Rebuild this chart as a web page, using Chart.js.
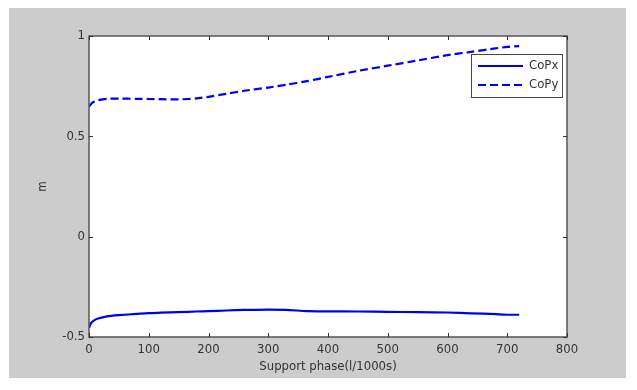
<!DOCTYPE html>
<html><head><meta charset="utf-8">
<script src="https://cdn.jsdelivr.net/npm/chart.js@4/dist/chart.umd.min.js"></script>
<style>html,body{margin:0;padding:0;background:#fff}#wrap{width:637px;height:390px}</style>
</head><body><div id="wrap"><canvas id="c" width="637" height="390"></canvas></div>
<script>
const support = [0,3,8,15,30,50,80,100,120,150,180,200,230,260,300,330,365,400,450,500,550,600,640,680,700,720];
const copx = [-0.455,-0.432,-0.418,-0.408,-0.397,-0.391,-0.385,-0.381,-0.379,-0.376,-0.373,-0.371,-0.368,-0.365,-0.364,-0.365,-0.371,-0.372,-0.373,-0.375,-0.376,-0.378,-0.382,-0.386,-0.389,-0.389];
const copy = [0.648,0.66,0.672,0.68,0.687,0.688,0.687,0.686,0.685,0.684,0.689,0.697,0.712,0.727,0.743,0.757,0.775,0.796,0.826,0.852,0.878,0.905,0.921,0.938,0.946,0.95];
const seriesNames = ['CoPx','CoPy'];
const xTicks = [0,100,200,300,400,500,600,700,800];
const yTicks = [-0.5,0,0.5,1];
const xTitle = 'Support phase(l/1000s)';
const yTitle = 'm';

const FONT = "'Liberation Sans Narrow','DejaVu Sans Condensed',sans-serif";
const BLUE = '#0000f0';

const frame = {
  id: 'frame',
  beforeDraw(chart) {
    const ctx = chart.ctx, a = chart.chartArea;
    ctx.save();
    ctx.fillStyle = '#fff';
    ctx.fillRect(0, 0, chart.width, chart.height);
    ctx.fillStyle = '#cccccc';
    ctx.fillRect(9, 8, 617, 370);
    ctx.fillStyle = '#fff';
    ctx.fillRect(a.left, a.top, a.right - a.left, a.bottom - a.top);
    ctx.restore();
  },
  afterDraw(chart) {
    const ctx = chart.ctx, a = chart.chartArea;
    const xs = chart.scales.x, ys = chart.scales.y;
    ctx.save();
    ctx.strokeStyle = '#555';
    ctx.lineWidth = 1.5;
    ctx.strokeRect(a.left, a.top, a.right - a.left, a.bottom - a.top);
    ctx.lineWidth = 1;
    ctx.strokeStyle = '#333';
    ctx.beginPath();
    xTicks.forEach(v => {
      const p = Math.round(xs.getPixelForValue(v)) + 0.5;
      ctx.moveTo(p, a.bottom); ctx.lineTo(p, a.bottom - 4);
      ctx.moveTo(p, a.top); ctx.lineTo(p, a.top + 4);
    });
    yTicks.forEach(v => {
      const p = Math.round(ys.getPixelForValue(v)) + 0.5;
      ctx.moveTo(a.left, p); ctx.lineTo(a.left + 4, p);
      ctx.moveTo(a.right, p); ctx.lineTo(a.right - 4, p);
    });
    ctx.stroke();
    // legend
    const lx = 471, ly = 54, lw = 91, lh = 43;
    ctx.fillStyle = '#fff';
    ctx.fillRect(lx, ly, lw, lh);
    ctx.strokeStyle = '#444';
    ctx.lineWidth = 1;
    ctx.strokeRect(lx + 0.5, ly + 0.5, lw, lh);
    chart.data.datasets.forEach((ds, i) => {
      const y = ly + 12 + i * 19;
      ctx.strokeStyle = ds.borderColor;
      ctx.lineWidth = ds.borderWidth;
      ctx.setLineDash(ds.borderDash || []);
      ctx.beginPath();
      ctx.moveTo(lx + 7, y); ctx.lineTo(lx + 52, y);
      ctx.stroke();
      ctx.setLineDash([]);
      ctx.fillStyle = '#333';
      ctx.font = '13px ' + FONT;
      ctx.textBaseline = 'middle';
      ctx.fillText(ds.label, lx + 58, y);
    });
    ctx.restore();
  }
};

new Chart(document.getElementById('c'), {
  type: 'line',
  data: {
    labels: support,
    datasets: [
      { label: seriesNames[0], data: support.map((x, i) => ({x, y: copx[i]})), borderColor: BLUE, borderWidth: 2.2, pointRadius: 0, tension: 0.2, fill: false },
      { label: seriesNames[1], data: support.map((x, i) => ({x, y: copy[i]})), borderColor: BLUE, borderWidth: 2.2, borderDash: [8, 4], pointRadius: 0, tension: 0.2, fill: false }
    ]
  },
  options: {
    responsive: false,
    animation: false,
    layout: { padding: { top: 36, right: 70, left: 0, bottom: 0 } },
    plugins: { legend: { display: false }, tooltip: { enabled: false } },
    scales: {
      x: {
        type: 'linear', min: 0, max: 800,
        afterBuildTicks(s) { s.ticks = xTicks.map(v => ({value: v})); },
        afterFit(s) { s.height = 53; },
        grid: { display: false, drawTicks: false },
        border: { display: false },
        ticks: { padding: 5, color: '#333', font: { family: FONT, size: 13 }, maxRotation: 0, autoSkip: false },
        title: { display: true, text: xTitle, color: '#333', font: { family: FONT, size: 13 }, padding: { top: 0, bottom: 16 } }
      },
      y: {
        type: 'linear', min: -0.5, max: 1,
        afterBuildTicks(s) { s.ticks = yTicks.map(v => ({value: v})); },
        afterFit(s) { s.width = 89; },
        grid: { display: false, drawTicks: false },
        border: { display: false },
        ticks: { padding: 4, color: '#333', font: { family: FONT, size: 13 }, callback: v => String(v) },
        title: { display: true, text: yTitle, color: '#333', font: { family: FONT, size: 12 }, padding: { top: 36, bottom: 0 } }
      }
    }
  },
  plugins: [frame]
});
</script>
</body></html>
